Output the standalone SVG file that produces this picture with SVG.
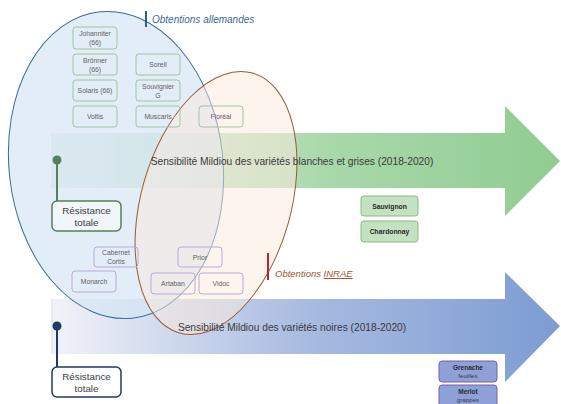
<svg xmlns="http://www.w3.org/2000/svg" width="561" height="404" viewBox="0 0 561 404">
<defs>
<linearGradient id="gGreen" x1="52" y1="0" x2="560" y2="0" gradientUnits="userSpaceOnUse">
<stop offset="0" stop-color="#e6f1ea"/>
<stop offset="0.55" stop-color="#a9d8aa"/>
<stop offset="1" stop-color="#90cc92"/>
</linearGradient>
<linearGradient id="gBlue" x1="52" y1="0" x2="560" y2="0" gradientUnits="userSpaceOnUse">
<stop offset="0" stop-color="#f2f3f9"/>
<stop offset="0.5" stop-color="#a8bbe0"/>
<stop offset="1" stop-color="#7c9cd3"/>
</linearGradient>
<style>
text{font-family:"Liberation Sans",Arial,sans-serif;}
.gb{fill:none;stroke:#a3c4a3;stroke-width:1;}
.pb{fill:none;stroke:#b9a9d9;stroke-width:1;}
.bl{font-size:6.8px;fill:#626262;text-anchor:middle;}
.arrowtxt{font-size:10.2px;fill:#3a3a3a;text-anchor:middle;}
.res{font-size:9.8px;fill:#404040;text-anchor:middle;}
</style>
</defs>

<g id="arrow-blanches">
<path d="M52,133 H505 V106 L560,161 L505,216 V188 H52 Z" fill="url(#gGreen)"/>
<line x1="52" y1="133" x2="52" y2="188" stroke="#c8dccc" stroke-width="1"/>
</g>
<g id="arrow-noires">
<path d="M52,299 H505 V272 L560,326 L505,382 V354 H52 Z" fill="url(#gBlue)"/>
<line x1="52" y1="299" x2="52" y2="354" stroke="#d6dcea" stroke-width="1"/>
</g>

<g id="ellipse-allemandes">
<ellipse cx="116" cy="165" rx="107" ry="154" transform="rotate(-6 116 165)" fill="#d6e6f4" fill-opacity="0.7" stroke="#3a6b98" stroke-width="1"/>
</g>
<g id="ellipse-inrae">
<ellipse cx="216" cy="203" rx="75" ry="135" transform="rotate(15.7 216 203)" fill="#fbe9dd" fill-opacity="0.5" stroke="#9c5a35" stroke-width="1"/>
</g>

<g id="label-blanches"><text class="arrowtxt" x="292" y="164.5">Sensibilité Mildiou des variétés blanches et grises (2018-2020)</text></g>
<g id="label-noires"><text class="arrowtxt" x="292" y="330.5">Sensibilité Mildiou des variétés noires (2018-2020)</text></g>

<g id="connectors">
<line x1="57" y1="160" x2="57" y2="201" stroke="#5a7d5c" stroke-width="2"/>
<line x1="57" y1="326" x2="57" y2="367" stroke="#1f3864" stroke-width="2"/>
</g>

<g id="res-blanches">
<circle cx="57" cy="160" r="4.5" fill="#5a7d5c"/>
<rect x="52" y="201" width="69" height="30" rx="5" fill="#ffffff" fill-opacity="0.5" stroke="#5a7d5c" stroke-width="1.5"/>
<text class="res" x="86.5" y="214">Résistance</text>
<text class="res" x="86.5" y="226">totale</text>
</g>
<g id="res-noires">
<circle cx="57" cy="326" r="4.5" fill="#1f3864"/>
<rect x="52" y="367" width="69" height="30" rx="5" fill="#ffffff" stroke="#1f3864" stroke-width="1.5"/>
<text class="res" x="86.5" y="380">Résistance</text>
<text class="res" x="86.5" y="392">totale</text>
</g>

<g id="title-allemandes">
<rect x="145" y="11" width="2" height="16" fill="#2d5f8f"/>
<text x="152" y="23" font-size="10" font-style="italic" fill="#3d6a96">Obtentions allemandes</text>
</g>
<g id="title-inrae">
<rect x="267" y="253" width="2" height="27" fill="#c0202a"/>
<text x="275" y="277" font-size="9.5" font-style="italic" fill="#a0522d">Obtentions <tspan text-decoration="underline">INRAE</tspan></text>
</g>

<g id="johanniter"><rect class="gb" x="73" y="27" width="44" height="22" rx="3"/><text class="bl" x="95" y="36">Johanniter</text><text class="bl" x="95" y="45">(66)</text></g>
<g id="bronner"><rect class="gb" x="73" y="54" width="44" height="21" rx="3"/><text class="bl" x="95" y="63">Brönner</text><text class="bl" x="95" y="71.5">(66)</text></g>
<g id="sorell"><rect class="gb" x="136" y="54" width="44" height="21" rx="3"/><text class="bl" x="158" y="67">Sorell</text></g>
<g id="solaris"><rect class="gb" x="73" y="80" width="44" height="21" rx="3"/><text class="bl" x="95" y="93">Solaris (66)</text></g>
<g id="souvignier"><rect class="gb" x="136" y="80" width="44" height="21" rx="3"/><text class="bl" x="158" y="89">Souvignier</text><text class="bl" x="158" y="97.5">G</text></g>
<g id="voltis"><rect class="gb" x="73" y="106" width="44" height="21" rx="3"/><text class="bl" x="95" y="119">Voltis</text></g>
<g id="muscaris"><rect class="gb" x="136" y="106" width="44" height="21" rx="3"/><text class="bl" x="158" y="119">Muscaris</text></g>
<g id="floreal"><rect class="gb" x="199" y="106" width="44" height="21" rx="3"/><text class="bl" x="221" y="119">Floréal</text></g>

<g id="cabernet-cortis"><rect class="pb" x="94" y="247" width="44" height="20" rx="3"/><text class="bl" x="116" y="255">Cabernet</text><text class="bl" x="116" y="263.5">Cortis</text></g>
<g id="prior"><rect class="pb" x="178" y="247" width="44" height="20" rx="3"/><text class="bl" x="200" y="259.5">Prior</text></g>
<g id="monarch"><rect class="pb" x="72" y="271" width="44" height="21" rx="3"/><text class="bl" x="94" y="284">Monarch</text></g>
<g id="artaban"><rect class="pb" x="151" y="273" width="44" height="21" rx="3"/><text class="bl" x="173" y="286">Artaban</text></g>
<g id="vidoc"><rect class="pb" x="199" y="273" width="44" height="21" rx="3"/><text class="bl" x="221" y="286">Vidoc</text></g>

<g id="sauvignon"><rect x="361" y="196" width="57" height="20" rx="3" fill="#c4e1c2" stroke="#86bb86" stroke-width="1"/><text x="389.5" y="208.5" font-size="6.8" font-weight="bold" fill="#2a2a2a" text-anchor="middle">Sauvignon</text></g>
<g id="chardonnay"><rect x="361" y="221" width="57" height="21" rx="3" fill="#c4e1c2" stroke="#86bb86" stroke-width="1"/><text x="389.5" y="234" font-size="6.8" font-weight="bold" fill="#2a2a2a" text-anchor="middle">Chardonnay</text></g>

<g id="grenache"><rect x="439" y="361" width="58" height="21" rx="3" fill="#8fa0d8" stroke="#7d5ea8" stroke-width="1"/><text x="468" y="370" font-size="6.5" font-weight="bold" fill="#2a2a2a" text-anchor="middle">Grenache</text><text x="468" y="378" font-size="6.2" fill="#3a3a4a" text-anchor="middle">feuilles</text></g>
<g id="merlot"><rect x="439" y="385" width="58" height="24" rx="3" fill="#8fa0d8" stroke="#7d5ea8" stroke-width="1"/><text x="468" y="394" font-size="6.5" font-weight="bold" fill="#2a2a2a" text-anchor="middle">Merlot</text><text x="468" y="402" font-size="6.2" fill="#3a3a4a" text-anchor="middle">grappes</text></g>
</svg>
